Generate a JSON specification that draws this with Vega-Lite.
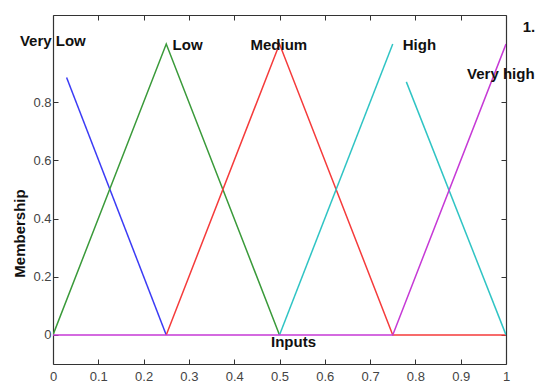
{
  "$schema": "https://vega.github.io/schema/vega-lite/v6.json",
  "width": 453,
  "height": 349,
  "autosize": "none",
  "padding": {"left": 53, "top": 15, "right": 31, "bottom": 21},
  "background": "white",
  "config": {
    "view": {"stroke": null},
    "axis": {
      "grid": false,
      "domainColor": "#333333",
      "domainWidth": 1.2,
      "tickColor": "#333333",
      "tickSize": -5,
      "labelFont": "Liberation Sans",
      "labelFontSize": 13,
      "labelColor": "#444444",
      "titleFont": "Liberation Sans",
      "titleFontSize": 15,
      "titleFontWeight": "bold",
      "titleColor": "#111111"
    }
  },
  "datasets": {
    "lines": [
      {"series": "Very Low", "segment": "vl", "order": 1, "x": 0.03, "y": 0.885},
      {"series": "Very Low", "segment": "vl", "order": 2, "x": 0.25, "y": 0},
      {"series": "Low", "segment": "l", "order": 1, "x": 0, "y": 0},
      {"series": "Low", "segment": "l", "order": 2, "x": 0.25, "y": 1},
      {"series": "Low", "segment": "l", "order": 3, "x": 0.5, "y": 0},
      {"series": "Medium", "segment": "m", "order": 1, "x": 0.25, "y": 0},
      {"series": "Medium", "segment": "m", "order": 2, "x": 0.5, "y": 1},
      {"series": "Medium", "segment": "m", "order": 3, "x": 0.75, "y": 0},
      {"series": "Medium", "segment": "m", "order": 4, "x": 1, "y": 0},
      {"series": "High", "segment": "h1", "order": 1, "x": 0.5, "y": 0},
      {"series": "High", "segment": "h1", "order": 2, "x": 0.75, "y": 1},
      {"series": "High", "segment": "h2", "order": 1, "x": 0.78, "y": 0.87},
      {"series": "High", "segment": "h2", "order": 2, "x": 1, "y": 0},
      {"series": "Very high", "segment": "vh", "order": 1, "x": 0, "y": 0},
      {"series": "Very high", "segment": "vh", "order": 2, "x": 0.75, "y": 0},
      {"series": "Very high", "segment": "vh", "order": 3, "x": 1, "y": 1}
    ],
    "labels": [
      {"label": "Very Low", "x": -0.073, "y": 0.993},
      {"label": "Low", "x": 0.264, "y": 0.979},
      {"label": "Medium", "x": 0.436, "y": 0.979},
      {"label": "High", "x": 0.772, "y": 0.979},
      {"label": "Very high", "x": 0.914, "y": 0.88},
      {"label": "1.", "x": 1.037, "y": 1.041}
    ]
  },
  "layer": [
    {
      "data": {"name": "lines"},
      "mark": {"type": "line", "strokeWidth": 1.5, "clip": true},
      "encoding": {
        "x": {
          "field": "x", "type": "quantitative",
          "scale": {"domain": [0, 1], "nice": false, "zero": false},
          "axis": {
            "orient": "bottom",
            "values": [0, 0.1, 0.2, 0.3, 0.4, 0.5, 0.6, 0.7, 0.8, 0.9, 1],
            "format": "~g",
            "labelPadding": 11,
            "labelFlush": false,
            "title": "Inputs",
            "titleX": 240,
            "titleY": -18,
            "titleAlign": "center",
            "titleBaseline": "alphabetic"
          }
        },
        "y": {
          "field": "y", "type": "quantitative",
          "scale": {"domain": [-0.1, 1.1], "nice": false, "zero": false},
          "axis": {
            "orient": "left",
            "values": [0, 0.2, 0.4, 0.6, 0.8],
            "format": "~g",
            "labelPadding": 7,
            "labelFlush": false,
            "title": "Membership",
            "titleX": -29,
            "titleY": 218,
            "titleAngle": -90,
            "titleAlign": "center",
            "titleBaseline": "alphabetic"
          }
        },
        "color": {
          "field": "series", "type": "nominal",
          "scale": {
            "domain": ["Very Low", "Low", "Medium", "High", "Very high"],
            "range": ["#3b3bf5", "#3a9a3a", "#f53b3b", "#2fc4c4", "#c63ad6"]
          },
          "legend": null
        },
        "detail": {"field": "segment", "type": "nominal"},
        "order": {"field": "order", "type": "quantitative"}
      }
    },
    {
      "data": {"name": "labels"},
      "mark": {"type": "text", "align": "left", "baseline": "alphabetic", "font": "Liberation Sans", "fontSize": 15, "fontWeight": "bold", "color": "#111111", "clip": false},
      "encoding": {
        "x": {
          "field": "x", "type": "quantitative",
          "scale": {"domain": [0, 1], "nice": false, "zero": false},
          "axis": {"orient": "top", "values": [0, 0.1, 0.2, 0.3, 0.4, 0.5, 0.6, 0.7, 0.8, 0.9, 1], "labels": false, "title": null}
        },
        "y": {
          "field": "y", "type": "quantitative",
          "scale": {"domain": [-0.1, 1.1], "nice": false, "zero": false},
          "axis": {"orient": "right", "values": [0, 0.2, 0.4, 0.6, 0.8], "labels": false, "title": null}
        },
        "text": {"field": "label", "type": "nominal"}
      }
    }
  ],
  "resolve": {"axis": {"x": "independent", "y": "independent"}}
}
